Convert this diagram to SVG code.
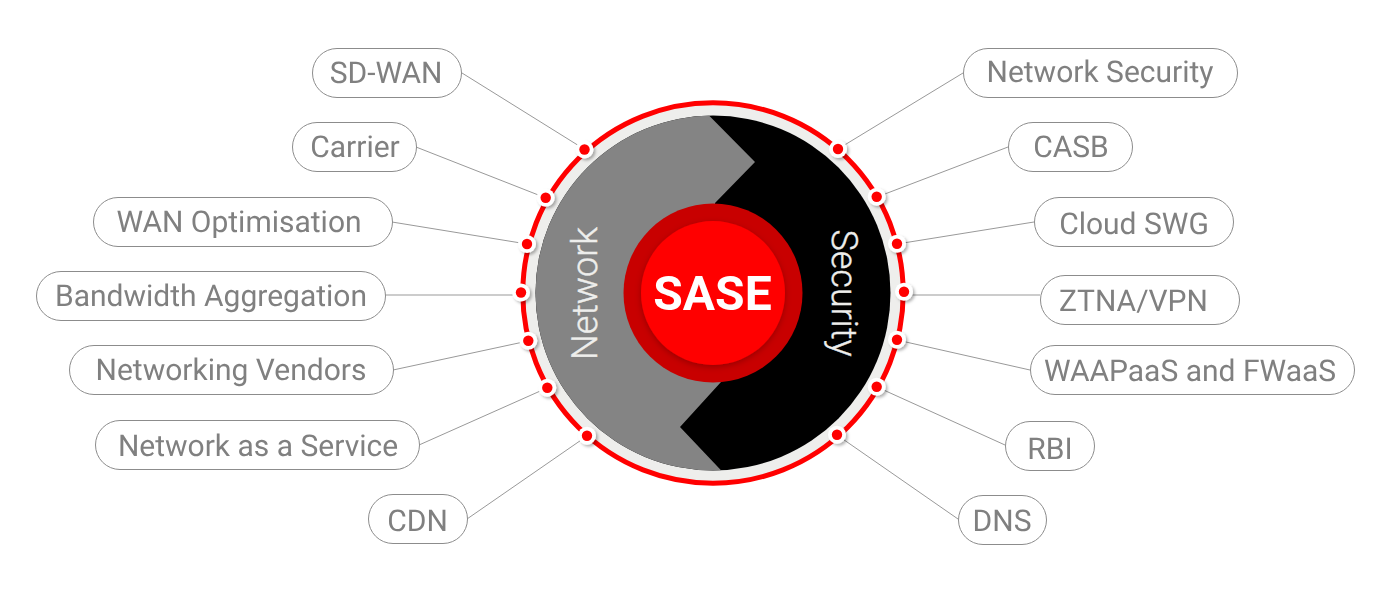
<svg xmlns="http://www.w3.org/2000/svg" width="1400" height="600" viewBox="0 0 1400 600">
<defs>
<filter id="ds" x="-60%" y="-60%" width="220%" height="220%"><feDropShadow dx="2" dy="2" stdDeviation="1.5" flood-color="#000" flood-opacity="0.3"/></filter>
<filter id="cs" x="-20%" y="-20%" width="140%" height="140%"><feDropShadow dx="0" dy="2" stdDeviation="3" flood-color="#000" flood-opacity="0.25"/></filter>
<clipPath id="disc"><circle cx="713" cy="293" r="177.5"/></clipPath>
<g id="dot"><circle r="9" fill="#fff" filter="url(#ds)"/><circle r="5.2" fill="#f00"/></g>
</defs>
<style>
.pill{fill:#fff;stroke:#8c8c8c;stroke-width:1}
.node{opacity:.995}
.lbl{font-family:Roboto,"Liberation Sans",sans-serif;font-size:30px;fill:#808080;text-anchor:middle;text-rendering:geometricPrecision}
.conn{stroke:#999;stroke-width:1;fill:none}
.side{font-family:Roboto,"Liberation Sans",sans-serif;font-size:36px;font-weight:300;text-anchor:middle;fill:#eeeeec;stroke:#eeeeec;stroke-width:.4px;text-rendering:geometricPrecision}
</style>
<rect width="1400" height="600" fill="#fff"/>
<g id="connectors">
<line class="conn" x1="462" y1="73" x2="584" y2="149"/>
<line class="conn" x1="416" y1="147" x2="546" y2="198"/>
<line class="conn" x1="392" y1="222" x2="527" y2="244"/>
<line class="conn" x1="385" y1="295" x2="521" y2="295"/>
<line class="conn" x1="393" y1="370" x2="528" y2="341"/>
<line class="conn" x1="419" y1="445" x2="547" y2="388"/>
<line class="conn" x1="467" y1="519" x2="587" y2="436"/>
<line class="conn" x1="963" y1="73" x2="838" y2="149"/>
<line class="conn" x1="1008" y1="147" x2="877" y2="197"/>
<line class="conn" x1="1034" y1="222" x2="897" y2="244"/>
<line class="conn" x1="1040" y1="295" x2="904" y2="295"/>
<line class="conn" x1="1030" y1="370" x2="897" y2="340"/>
<line class="conn" x1="1005" y1="445" x2="877" y2="387"/>
<line class="conn" x1="958" y1="519" x2="837" y2="435"/>
</g>
<g id="wheel">
<circle cx="713" cy="293" r="190.2" fill="#eeeeec" stroke="#f00" stroke-width="5"/>
<circle cx="713" cy="293" r="177.5" fill="#000"/>
<path d="M709 100 L709 115.6 L755 162 L715 203 L721 382 L680 427 L721 470.3 L721 490 L500 490 L500 100 Z" fill="#848484" clip-path="url(#disc)"/>
<circle cx="713" cy="293" r="89.5" fill="#c80000"/>
<circle cx="713" cy="293" r="72" fill="#f00" filter="url(#cs)"/>
<text x="712.5" y="310" font-family="Roboto,'Liberation Sans',sans-serif" font-size="48" font-weight="700" fill="#fff" text-anchor="middle" opacity=".995">SASE</text>
<text class="side" transform="translate(597 293.5) rotate(-90)">Network</text>
<text class="side" transform="translate(831.5 293) rotate(90)">Security</text>
</g>
<g id="dots">
<use href="#dot" x="584.5" y="149.5"/>
<use href="#dot" x="545.7" y="197.7"/>
<use href="#dot" x="527" y="244"/>
<use href="#dot" x="521" y="292.5"/>
<use href="#dot" x="528.3" y="340.7"/>
<use href="#dot" x="547.3" y="387.7"/>
<use href="#dot" x="587" y="435.7"/>
<use href="#dot" x="838" y="149"/>
<use href="#dot" x="876.7" y="196.7"/>
<use href="#dot" x="897" y="243.7"/>
<use href="#dot" x="904" y="291.7"/>
<use href="#dot" x="897" y="339.7"/>
<use href="#dot" x="876.7" y="386.7"/>
<use href="#dot" x="837" y="434.7"/>
</g>
<g id="n-sdwan" class="node"><rect class="pill" x="312.5" y="48.5" width="149" height="49" rx="24.5"/><text class="lbl" x="386" y="83">SD-WAN</text></g>
<g id="n-carrier" class="node"><rect class="pill" x="292.5" y="122.5" width="124" height="49" rx="24.5"/><text class="lbl" x="355" y="157">Carrier</text></g>
<g id="n-wanopt" class="node"><rect class="pill" x="93.5" y="197.5" width="299" height="49" rx="24.5"/><text class="lbl" x="239" y="232">WAN Optimisation</text></g>
<g id="n-bandwidth" class="node"><rect class="pill" x="36.5" y="271.5" width="349" height="49" rx="24.5"/><text class="lbl" x="211" y="306">Bandwidth Aggregation</text></g>
<g id="n-vendors" class="node"><rect class="pill" x="69.5" y="345.5" width="324" height="49" rx="24.5"/><text class="lbl" x="231" y="380">Networking Vendors</text></g>
<g id="n-naas" class="node"><rect class="pill" x="95.5" y="420.5" width="324" height="49" rx="24.5"/><text class="lbl" x="258" y="456">Network as a Service</text></g>
<g id="n-cdn" class="node"><rect class="pill" x="368.5" y="494.5" width="99" height="49" rx="24.5"/><text class="lbl" x="417.5" y="531">CDN</text></g>
<g id="n-netsec" class="node"><rect class="pill" x="963.5" y="48.5" width="274" height="49" rx="24.5"/><text class="lbl" x="1100" y="82">Network Security</text></g>
<g id="n-casb" class="node"><rect class="pill" x="1008.5" y="122.5" width="124" height="49" rx="24.5"/><text class="lbl" x="1071" y="157">CASB</text></g>
<g id="n-swg" class="node"><rect class="pill" x="1034.5" y="197.5" width="199" height="49" rx="24.5"/><text class="lbl" x="1134" y="233.5">Cloud SWG</text></g>
<g id="n-ztna" class="node"><rect class="pill" x="1040.5" y="275.5" width="199" height="49" rx="24.5"/><text class="lbl" x="1133.5" y="311">ZTNA/VPN</text></g>
<g id="n-waap" class="node"><rect class="pill" x="1030.5" y="345.5" width="324" height="49" rx="24.5"/><text class="lbl" x="1190" y="380.5">WAAPaaS and FWaaS</text></g>
<g id="n-rbi" class="node"><rect class="pill" x="1005.5" y="421.5" width="89" height="49" rx="24.5"/><text class="lbl" x="1050" y="459">RBI</text></g>
<g id="n-dns" class="node"><rect class="pill" x="958.5" y="495.5" width="88" height="49" rx="24.5"/><text class="lbl" x="1002" y="531">DNS</text></g>
</svg>
